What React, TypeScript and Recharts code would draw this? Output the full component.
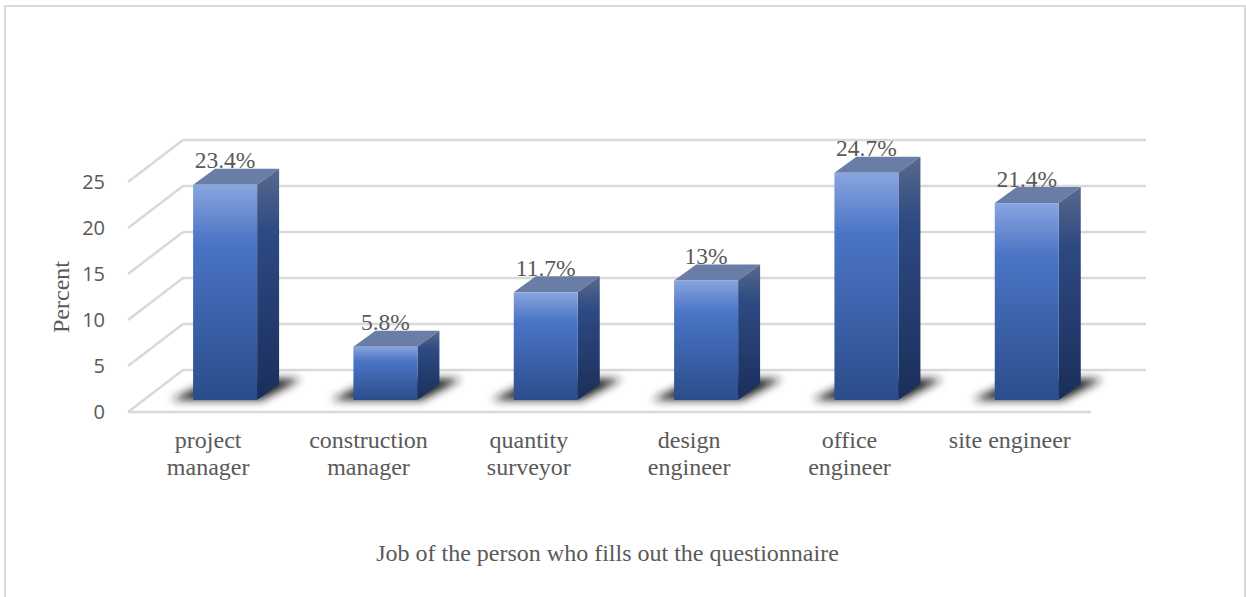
import { BarChart, Bar, XAxis, YAxis, CartesianGrid } from 'recharts';

const categories = ['project manager', 'construction manager', 'quantity surveyor', 'design engineer', 'office engineer', 'site engineer'];
const tickLines = [['project', 'manager'], ['construction', 'manager'], ['quantity', 'surveyor'], ['design', 'engineer'], ['office', 'engineer'], ['site engineer']];
const percents = [23.4, 5.8, 11.7, 13, 24.7, 21.4];
const yTicks = [0, 5, 10, 15, 20, 25];

const data = categories.map((name, i) => ({ name, percent: percents[i] }));

const SERIF = '"Liberation Serif", serif';
const TEXT = '#595959';
const GRID = '#d9d9d9';

// fake 3D: how far the back of a bar / the wall sits from the front plane
const BAR_DX = 22;
const BAR_DY = 16;

function WallLine(props: any) {
  const { x1, x2, y1, index } = props;
  const isFloor = y1 > 390;
  return (
    <g key={index}>
      <line x1={x1 - 17} y1={y1 + 12} x2={x1 + 38} y2={y1 - 30} stroke={GRID} strokeWidth={2.5} />
      <line x1={x1 + 38} y1={y1 - 30} x2={x2 + 39} y2={y1 - 30} stroke={GRID} strokeWidth={2.5} />
      {isFloor && <line x1={x1 - 17} y1={y1 + 12} x2={x2 - 16} y2={y1 + 12} stroke={GRID} strokeWidth={2.5} />}
    </g>
  );
}

function Bar3D(props: any) {
  const { x, y, width, height, payload } = props;
  const right = x + width;
  const base = y + height;
  return (
    <g>
      <polygon
        points={`${x - 22},${base} ${right + 4},${base} ${right + 44},${base - 21} ${x + 22},${base - 21}`}
        fill="#1c1c1c"
        filter="url(#floorShadow)"
      />
      <text x={x + width / 2} y={y - 16.5} textAnchor="middle" fontFamily={SERIF} fontSize={23.5} fill={TEXT}>
        {payload.percent}%
      </text>
      <polygon
        points={`${x},${y} ${x + BAR_DX},${y - BAR_DY} ${right + BAR_DX},${y - BAR_DY} ${right},${y}`}
        fill="#6a7da6"
      />
      <polygon
        points={`${right},${y} ${right + BAR_DX},${y - BAR_DY} ${right + BAR_DX},${base - BAR_DY} ${right},${base}`}
        fill="url(#barSide)"
      />
      <rect x={x} y={y} width={width} height={height} fill="url(#barFront)" />
    </g>
  );
}

function YTick(props: any) {
  const { y, payload } = props;
  return (
    <text x={105} y={y + 19} textAnchor="end" fontFamily='"Open Sans", sans-serif' fontSize={20} fill={TEXT}>
      {payload.value}
    </text>
  );
}

function XTick(props: any) {
  const { x, payload, index } = props;
  return (
    <text textAnchor="middle" fontFamily={SERIF} fontSize={24} fill={TEXT}>
      {tickLines[index].map((line, i) => (
        <tspan key={line} x={x - 17} y={448 + i * 27}>{line}</tspan>
      ))}
      <title>{payload.value}</title>
    </text>
  );
}

export default function App() {
  return (
    <div
      style={{
        position: 'absolute',
        left: 0,
        top: 0,
        width: 1246,
        height: 597,
        background: '#fff',
        overflow: 'hidden',
      }}
    >
      <div
        style={{
          position: 'absolute',
          left: 4,
          top: 5,
          width: 1238,
          height: 600,
          border: '2px solid #d9d9d9',
        }}
      />
      <BarChart
        width={1246}
        height={597}
        data={data}
        barCategoryGap="30%"
        margin={{ top: 170, right: 139, bottom: 196, left: 144 }}
      >
        <defs>
          <linearGradient id="barFront" x1="0" y1="0" x2="0" y2="1">
            <stop offset="0%" stopColor="#88a5df" />
            <stop offset="27%" stopColor="#4a74c5" />
            <stop offset="100%" stopColor="#2b4d8b" />
          </linearGradient>
          <linearGradient id="barSide" x1="0" y1="0" x2="0" y2="1">
            <stop offset="0%" stopColor="#58698c" />
            <stop offset="27%" stopColor="#2e4a83" />
            <stop offset="100%" stopColor="#1a2e5a" />
          </linearGradient>
          <filter id="floorShadow" x="-30%" y="-60%" width="160%" height="220%">
            <feGaussianBlur stdDeviation="4" />
          </filter>
        </defs>
        <CartesianGrid vertical={false} horizontal={WallLine} />
        <XAxis
          dataKey="name"
          height={1}
          axisLine={false}
          tickLine={false}
          interval={0}
          tick={XTick}
          label={() => (
            <text x={607.5} y={561} textAnchor="middle" fontFamily={SERIF} fontSize={24} fill={TEXT}>
              Job of the person who fills out the questionnaire
            </text>
          )}
        />
        <YAxis
          width={1}
          domain={[0, 25]}
          ticks={yTicks}
          axisLine={false}
          tickLine={false}
          tick={YTick}
          label={() => (
            <text
              transform="translate(69 297) rotate(-90)"
              textAnchor="middle"
              fontFamily={SERIF}
              fontSize={24}
              fill={TEXT}
            >
              Percent
            </text>
          )}
        />
        <Bar dataKey="percent" shape={Bar3D} isAnimationActive={false} />
      </BarChart>
    </div>
  );
}
